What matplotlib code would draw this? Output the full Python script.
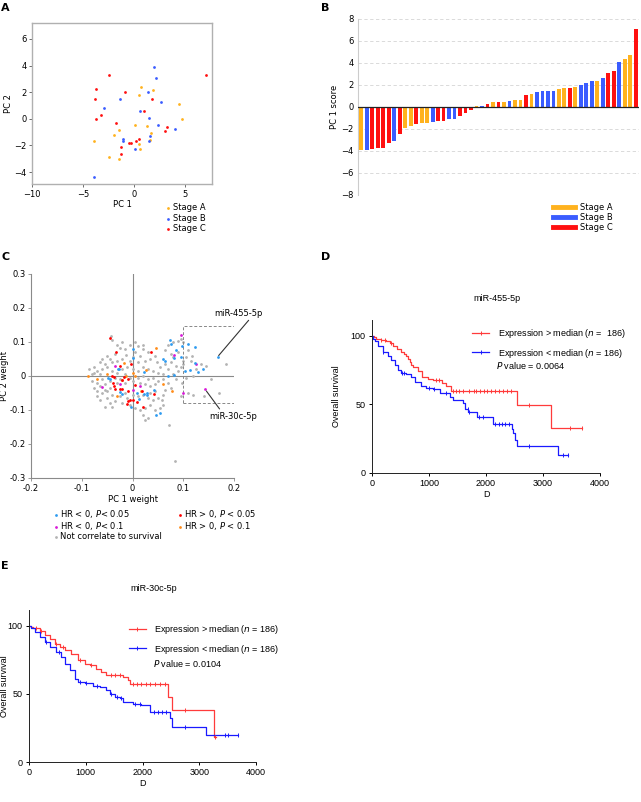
import matplotlib
matplotlib.use("Agg")
import matplotlib.pyplot as plt
from matplotlib.lines import Line2D
from matplotlib.patches import Rectangle

# ---------------------------------------------------------------- data ----
# panel A: PCA scores
a_stage_a_x = [0.65, 1.8, 0.5, 4.35, 4.7, 0.07, 1.2, -1.45, -1.95, 1.65, 1.5, 0.45, 0.6, -3.9, -2.45, -1.5]
a_stage_a_y = [2.4, 2.15, 1.8, 1.1, 0.0, -0.5, -0.55, -0.85, -1.2, -1.1, -1.6, -1.9, -2.3, -1.65, -2.9, -3.0]
a_stage_b_x = [1.9, 2.15, 1.3, -1.4, 2.6, -3.0, 0.55, 1.45, 2.3, 3.95, -1.1, -1.1, 1.5, 1.45, 0.1, -3.9]
a_stage_b_y = [3.9, 3.05, 2.0, 1.5, 1.25, 0.8, 0.6, 0.05, -0.5, -0.75, -1.5, -1.65, -1.3, -1.7, -2.25, -4.4]
a_stage_c_x = [-2.45, 7.0, -3.7, -0.9, -3.85, 1.7, -3.3, -3.7, 1.0, -1.75, 3.2, 3.0, 0.45, 0.2, -0.55, -0.35, -1.3, -1.25]
a_stage_c_y = [3.3, 3.3, 2.25, 2.05, 1.5, 1.5, 0.25, 0.0, 0.55, -0.35, -0.6, -0.9, -1.5, -1.7, -1.8, -1.8, -2.15, -2.65]

# panel B: sorted PC1 scores
b_scores = [-3.9, -3.95, -3.85, -3.75, -3.75, -3.3, -3.05, -2.45, -1.9, -1.75,
            -1.5, -1.45, -1.45, -1.4, -1.25, -1.25, -1.1, -1.1, -0.8, -0.5,
            -0.25, 0.1, 0.1, 0.25, 0.5, 0.5, 0.5, 0.55, 0.6, 0.65,
            1.05, 1.2, 1.35, 1.5, 1.5, 1.5, 1.6, 1.7, 1.75, 1.85,
            2.0, 2.2, 2.35, 2.4, 2.65, 3.05, 3.3, 4.05, 4.35, 4.75, 7.05]
b_stage = list("ABCCCCBCAACAABCCBBCCCABCACABAACABBBBAACABBBABCCBAAC")

# panel C: PC weights of miRNAs
c_blue = [(0.073, 0.105), (0.076, 0.094), (0.085, 0.076), (0.098, 0.088), (0.109, 0.094), (0.123, 0.084),
          (0.060, 0.050), (0.064, 0.044), (0.081, 0.054), (0.096, 0.057), (0.082, 0.002), (0.070, 0.0),
          (0.103, 0.015), (0.113, 0.017), (0.123, 0.038), (0.130, 0.011), (0.139, 0.020), (0.168, 0.057),
          (0.001, 0.079), (0.001, 0.053), (-0.029, 0.021), (-0.026, 0.021), (-0.049, -0.005), (-0.045, -0.008),
          (-0.024, -0.047), (-0.021, -0.052), (0.008, -0.05), (0.028, -0.05), (0.028, -0.057), (0.013, -0.068),
          (-0.003, -0.09), (0.047, -0.115), (0.055, -0.108), (0.022, 0.012), (0.042, -0.041), (0.022, -0.054)]
c_magenta = [(0.096, 0.121), (0.082, 0.061), (0.126, 0.035), (0.143, -0.039), (0.100, -0.050),
             (-0.035, 0.030), (-0.060, -0.031), (0.015, -0.028), (0.001, -0.041), (-0.025, -0.025)]
c_red = [(-0.045, 0.112), (-0.033, 0.072), (0.037, 0.071), (-0.003, 0.035), (-0.024, 0.029), (-0.041, 0.0),
         (-0.036, -0.003), (-0.017, -0.003), (-0.009, -0.009), (-0.039, -0.021), (-0.036, -0.030), (-0.034, -0.039),
         (-0.024, -0.039), (-0.020, -0.039), (-0.008, -0.044), (0.004, -0.027), (-0.005, -0.070), (0.001, -0.071),
         (-0.010, -0.083), (-0.008, -0.075), (0.008, -0.077), (0.021, -0.092), (0.018, -0.044), (0.042, -0.054),
         (-0.020, -0.011)]
c_orange = [(-0.087, 0.0), (-0.070, -0.008), (-0.051, 0.006), (-0.016, 0.039), (0.0, 0.008), (0.005, 0.0),
            (-0.013, 0.001), (-0.020, -0.013), (-0.030, -0.058), (0.016, -0.043), (0.026, 0.018), (0.047, 0.083),
            (0.060, -0.023), (0.077, -0.043)]
c_gray = [(-0.043, 0.118), (-0.040, 0.106), (-0.005, 0.09), (0.01, 0.088), (0.02, 0.08), (-0.015, 0.08),
          (-0.025, 0.082), (-0.012, 0.063), (0.005, 0.072), (-0.035, 0.065), (-0.05, 0.06), (-0.045, 0.05),
          (-0.03, 0.045), (-0.02, 0.05), (0.0, 0.055), (0.015, 0.06), (0.03, 0.07), (0.045, 0.06),
          (0.048, 0.04), (0.035, 0.05), (0.025, 0.045), (0.01, 0.04), (-0.005, 0.045), (-0.04, 0.04),
          (-0.055, 0.035), (-0.06, 0.02), (-0.07, 0.015), (-0.075, 0.01), (-0.08, 0.005), (-0.065, 0.005),
          (-0.05, 0.025), (-0.04, 0.015), (-0.03, 0.01), (-0.02, 0.02), (-0.01, 0.025), (0.0, 0.02),
          (0.01, 0.015), (0.02, 0.025), (0.03, 0.02), (0.04, 0.015), (0.05, 0.01), (0.055, 0.025),
          (-0.045, -0.015), (-0.035, -0.005), (-0.025, -0.01), (-0.015, 0.005), (-0.005, -0.005), (0.01, -0.005),
          (0.02, 0.0), (0.03, -0.01), (0.04, -0.005), (0.05, -0.015), (0.06, -0.01), (-0.06, -0.01),
          (-0.07, -0.02), (-0.075, -0.035), (-0.065, -0.03), (-0.055, -0.025), (-0.045, -0.035), (-0.03, -0.02),
          (-0.015, -0.02), (0.0, -0.015), (0.015, -0.02), (0.025, -0.025), (0.035, -0.03), (0.045, -0.025),
          (-0.07, -0.045), (-0.06, -0.05), (-0.05, -0.045), (-0.04, -0.055), (-0.025, -0.06), (-0.015, -0.05),
          (-0.01, -0.065), (0.0, -0.055), (0.01, -0.06), (0.02, -0.055), (0.03, -0.065), (0.04, -0.07),
          (0.05, -0.065), (0.06, -0.055), (-0.05, -0.065), (-0.045, -0.08), (-0.035, -0.075), (-0.02, -0.08),
          (-0.005, -0.085), (0.005, -0.095), (0.015, -0.1), (0.025, -0.095), (0.035, -0.085), (0.045, -0.1),
          (0.055, -0.095), (0.02, -0.115), (0.03, -0.125), (0.025, -0.13), (0.06, -0.085), (-0.055, -0.09),
          (-0.065, -0.07), (0.035, -0.05), (0.045, -0.045),
          (0.065, 0.075), (0.07, 0.09), (0.075, 0.065), (0.08, 0.1), (0.09, 0.102), (0.095, 0.108),
          (0.1, 0.1), (0.065, 0.035), (0.075, 0.04), (0.085, 0.03), (0.095, 0.025), (0.07, 0.02),
          (0.06, 0.005), (0.08, 0.005), (0.09, 0.015), (0.1, 0.035), (0.105, 0.055), (0.11, 0.075),
          (0.118, 0.06), (0.135, 0.035), (0.145, 0.028), (0.115, 0.045), (0.12, 0.0), (0.105, -0.005),
          (0.098, -0.02), (0.07, -0.02), (0.075, -0.035), (0.085, -0.01), (0.11, -0.05), (0.12, -0.055),
          (0.14, -0.06), (0.17, -0.05), (0.185, 0.036), (0.155, -0.01), (0.072, -0.145), (0.083, -0.25),
          (0.095, -0.06), (0.065, -0.04), (0.058, -0.07), (0.125, 0.02), (0.1, 0.045), (0.08, 0.055),
          (0.09, 0.07), (-0.085, 0.02), (-0.08, -0.015), (-0.075, 0.025), (-0.065, 0.04), (-0.055, -0.04),
          (-0.04, -0.09), (-0.07, -0.06), (-0.06, 0.05), (-0.03, 0.09), (-0.02, 0.1), (0.005, 0.1), (0.02, 0.09)]

# panel D: Kaplan-Meier, miR-455-5p
d_hi_t = [0, 40, 76, 150, 250, 310, 370, 440, 515, 560, 600, 630, 660, 690, 720, 810, 870, 985, 1070, 1220, 1290, 1380, 2537, 3134, 3690]
d_hi_s = [100, 99, 97.6, 97, 96.3, 94.5, 92.7, 90.5, 88.5, 87, 85, 83, 81, 79, 77, 74, 70, 68.5, 67.5, 65.4, 63.4, 59.8, 49.5, 32.9, 32.9]
d_lo_t = [0, 20, 47, 105, 193, 281, 340, 398, 457, 515, 600, 690, 750, 867, 955, 1072, 1190, 1365, 1424, 1600, 1630, 1690, 1835, 2127, 2450, 2480, 2510, 2537, 3270, 3445]
d_lo_s = [100, 98, 95.9, 92.7, 88.5, 85, 82.4, 78.8, 75, 72.7, 72, 70, 66.6, 63.4, 61.7, 61, 58, 55.6, 53, 50.7, 47, 44.6, 40.5, 36, 32.4, 28.8, 24, 19.8, 13, 13]
d_hi_cens = [150, 230, 330, 1120, 1170, 1420, 1480, 1530, 1600, 1700, 1790, 1830, 1900, 1960, 2020, 2080, 2150, 2220, 2290, 2360, 2430, 2750, 3480, 3680]
d_lo_cens = [200, 520, 560, 1000, 1080, 1300, 1680, 1700, 1880, 1950, 2150, 2220, 2280, 2340, 2410, 2750, 3350, 3440]

# panel E: Kaplan-Meier, miR-30c-5p
e_hi_t = [0, 30, 70, 188, 276, 364, 452, 540, 628, 746, 863, 981, 1069, 1186, 1275, 1363, 1656, 1745, 1774, 2449, 2526, 3254, 3300]
e_hi_s = [100, 99, 98, 96.4, 93.4, 90.3, 86.7, 84.2, 82.3, 79, 74.5, 72, 70.9, 68.4, 66, 63.6, 62.4, 60, 57.5, 47.8, 38, 18.7, 18.7]
e_lo_t = [0, 41, 100, 188, 276, 364, 482, 570, 628, 717, 805, 863, 981, 1128, 1245, 1363, 1421, 1510, 1598, 1656, 1833, 1980, 2126, 2479, 2526, 3125, 3683]
e_lo_s = [100, 98, 95, 91.5, 87.9, 84.2, 80.6, 77, 72, 67.3, 61.2, 58.7, 58.2, 55.8, 55, 52.7, 50.2, 47.8, 46.6, 44.2, 42.5, 41.7, 36.9, 32, 26, 20, 20]
e_hi_cens = [120, 220, 480, 600, 900, 1100, 1450, 1520, 1600, 1830, 1900, 1980, 2060, 2140, 2220, 2300, 2400, 2750, 3280]
e_lo_cens = [300, 520, 900, 1000, 1200, 1450, 1550, 1620, 1870, 1950, 2200, 2270, 2340, 2420, 2750, 3450, 3500, 3680]

# ---------------------------------------------------------------- style ---
plt.rcParams['font.family'] = ['DejaVu Sans']
plt.rcParams['font.size'] = 6
c_a, c_b, c_c = '#ffb21e', '#3a5cff', '#ff1010'
stage_colors = {'A': c_a, 'B': c_b, 'C': c_c}
km_font = ['Liberation Sans', 'DejaVu Sans']

fig = plt.figure(figsize=(6.41, 8.02), dpi=100)

def px_axes(left, top, right, bottom):
    W, H = 641, 802
    return fig.add_axes([left / W, 1 - bottom / H, (right - left) / W, (bottom - top) / H])

def panel_label(x, y, s):
    fig.text(x / 641, 1 - y / 802, s, fontsize=8, fontweight='bold', va='top', ha='left')


# -------------------------------------------------------------------------- #
#                                      A                                     #
# -------------------------------------------------------------------------- #
ax = px_axes(32, 23, 212, 184)
ax.scatter(a_stage_a_x, a_stage_a_y, s=4, color=c_a, label='Stage A', zorder=3, linewidths=0)
ax.scatter(a_stage_b_x, a_stage_b_y, s=4, color=c_b, label='Stage B', zorder=3, linewidths=0)
ax.scatter(a_stage_c_x, a_stage_c_y, s=4, color=c_c, label='Stage C', zorder=3, linewidths=0)
ax.set_xlim(-10, 7.6)
ax.set_ylim(-4.9, 7.2)
ax.set_xticks([-10, -5, 0, 5])
ax.set_yticks([-4, -2, 0, 2, 4, 6])
for sp in ax.spines.values():
    sp.set_color('#b0b0b0')
    sp.set_linewidth(1.0)
ax.tick_params(length=2, width=0.6, color='#555555', labelsize=6, pad=2)
ax.set_xlabel('PC 1', fontsize=6, labelpad=1)
ax.set_ylabel('PC 2', fontsize=6, labelpad=1)
ax.legend(loc='upper left', bbox_to_anchor=(0.71, -0.095), frameon=False, fontsize=6,
          handletextpad=0.1, handlelength=1, labelspacing=0.15, borderpad=0, markerscale=1)
panel_label(1, 3, 'A')


# -------------------------------------------------------------------------- #
#                                      B                                     #
# -------------------------------------------------------------------------- #
ax = px_axes(358, 19, 639, 195)
xs = list(range(len(b_scores)))
ax.bar(xs, b_scores, width=0.68, color=[stage_colors[s] for s in b_stage], zorder=3)
ax.set_xlim(-0.6, len(b_scores) - 0.4)
ax.set_ylim(-8, 8)
ax.set_yticks(range(-8, 9, 2))
ax.yaxis.grid(True, linestyle=(0, (4, 3)), color='#d5d5d5', linewidth=0.6)
ax.axhline(0, color='#222222', linewidth=0.9, zorder=4)
ax.set_xticks([])
for k in ['top', 'right', 'bottom']:
    ax.spines[k].set_visible(False)
ax.spines['left'].set_color('#cccccc')
ax.tick_params(axis='y', length=0, labelsize=6, pad=3)
ax.set_ylabel('PC 1 score', fontsize=6, labelpad=2)
handles = [Line2D([], [], color=stage_colors[s], lw=3.5) for s in 'ABC']
ax.legend(handles, ['Stage A', 'Stage B', 'Stage C'], loc='upper left', bbox_to_anchor=(0.68, -0.02),
          frameon=False, fontsize=6, handlelength=2.6, handletextpad=0.6, labelspacing=0.15, borderpad=0)
panel_label(321, 3, 'B')


# -------------------------------------------------------------------------- #
#                                      C                                     #
# -------------------------------------------------------------------------- #
ax = px_axes(31, 274, 234, 478)
groups = [
    (c_gray, '#b3b3b3', 'Not correlate to survival', 2),
    (c_orange, '#ff8c1a', 'HR > 0, $P$ < 0.1', 3),
    (c_red, '#ff0000', 'HR > 0, $P$ < 0.05', 3),
    (c_magenta, '#d81ad8', 'HR < 0, $P$< 0.1', 3),
    (c_blue, '#2e9bf0', 'HR < 0, $P$< 0.05', 3),
]
for pts, col, lab, z in groups:
    ax.scatter([p[0] for p in pts], [p[1] for p in pts], s=4, color=col, linewidths=0, zorder=z, label=lab)
ax.axhline(0, color='#8a8a8a', linewidth=0.8, zorder=1)
ax.axvline(0, color='#8a8a8a', linewidth=0.8, zorder=1)
ax.add_patch(Rectangle((0.099, -0.078), 0.101, 0.224, fill=False, linestyle=(0, (3, 2)),
                       edgecolor='#888888', linewidth=0.7, zorder=2))
ax.set_xlim(-0.2, 0.2)
ax.set_ylim(-0.3, 0.3)
ax.set_xticks([-0.2, -0.1, 0, 0.1, 0.2])
ax.set_xticklabels(['-0.2', '-0.1', '0', '0.1', '0.2'])
ax.set_yticks([-0.3, -0.2, -0.1, 0, 0.1, 0.2, 0.3])
ax.set_yticklabels(['-0.3', '-0.2', '-0.1', '0', '0.1', '0.2', '0.3'])
for k in ['top', 'right']:
    ax.spines[k].set_visible(False)
for k in ['left', 'bottom']:
    ax.spines[k].set_color('#8a8a8a')
    ax.spines[k].set_linewidth(0.8)
ax.tick_params(length=2, width=0.6, color='#8a8a8a', labelsize=6, pad=2)
ax.set_xlabel('PC 1 weight', fontsize=6, labelpad=2)
ax.set_ylabel('PC 2 weight', fontsize=6, labelpad=0)
ax.annotate('miR-455-5p', xy=(0.168, 0.057), xytext=(0.162, 0.172), fontsize=6, ha='left', va='bottom',
            arrowprops=dict(arrowstyle='-', color='#333333', lw=0.8, shrinkA=0, shrinkB=1,
                            relpos=(0.75, 0)))
ax.annotate('miR-30c-5p', xy=(0.144, -0.041), xytext=(0.152, -0.105), fontsize=6, ha='left', va='top',
            arrowprops=dict(arrowstyle='-', color='#333333', lw=0.8, shrinkA=0, shrinkB=1,
                            relpos=(0.25, 1)))
h, l = ax.get_legend_handles_labels()
# column-major fill: blue, magenta, gray | red, orange
order = [4, 3, 0, 2, 1]
fig.legend([h[i] for i in order], [l[i] for i in order], loc='upper left',
           bbox_to_anchor=(48 / 641, 1 - 504 / 802), ncol=2, frameon=False, fontsize=6,
           handletextpad=0, handlelength=1, labelspacing=0.0, columnspacing=1.6, borderpad=0,
           markerscale=1)
panel_label(1, 252, 'C')


# -------------------------------------------------------------------------- #
#                                    D / E                                   #
# -------------------------------------------------------------------------- #
def km_panel(ax, hi_t, hi_s, lo_t, lo_s, hi_c, lo_c, title, pval, n_hi_txt, leg_y, p_y, ylab_x):
    red, blue = '#ff3b3b', '#1a1aff'
    ax.step(hi_t, hi_s, where='post', color=red, lw=0.9)
    ax.step(lo_t, lo_s, where='post', color=blue, lw=0.9)

    def level(ts, ss, t):
        v = ss[0]
        for ti, si in zip(ts, ss):
            if ti <= t:
                v = si
        return v
    ax.plot(hi_c, [level(hi_t, hi_s, t) for t in hi_c], linestyle='none', marker='|', ms=3,
            mew=0.7, color=red)
    ax.plot(lo_c, [level(lo_t, lo_s, t) for t in lo_c], linestyle='none', marker='|', ms=3,
            mew=0.7, color=blue)
    ax.set_xlim(0, 4000)
    ax.set_ylim(0, 111.5)
    ax.set_xticks([0, 1000, 2000, 3000, 4000])
    ax.set_yticks([0, 50, 100])
    for k in ['top', 'right']:
        ax.spines[k].set_visible(False)
    for k in ['left', 'bottom']:
        ax.spines[k].set_linewidth(0.7)
        ax.spines[k].set_color('#222222')
    ax.tick_params(length=2.5, width=0.7, labelsize=6.5, pad=2)
    for t in ax.get_xticklabels() + ax.get_yticklabels():
        t.set_fontfamily(km_font)
    ax.set_xlabel('D', fontsize=6.5, family=km_font, labelpad=1)
    ax.set_ylabel('Overall survival', fontsize=6.5, family=km_font)
    ax.yaxis.set_label_coords(ylab_x, 0.5)
    ax.set_title(title, fontsize=6.5, family=km_font, pad=14, x=0.55)
    handles = [Line2D([], [], color=red, lw=0.9, marker='|', ms=3, mew=0.7),
               Line2D([], [], color=blue, lw=0.9, marker='|', ms=3, mew=0.7)]
    labels = [n_hi_txt, 'Expression < median ($n$ = 186)']
    ax.legend(handles, labels, loc='upper left', bbox_to_anchor=(0.42, leg_y), frameon=False,
              prop={'family': km_font, 'size': 6.5}, handlelength=1.9, handletextpad=0.9,
              labelspacing=0.75, borderpad=0)
    ax.text(0.546, p_y, '$P$ value = ' + pval, transform=ax.transAxes, fontsize=6.5,
            family=km_font, va='center')


ax = px_axes(372, 320, 600, 473)
km_panel(ax, d_hi_t, d_hi_s, d_lo_t, d_lo_s, d_hi_cens, d_lo_cens, 'miR-455-5p', '0.0064',
         'Expression > median ($n$ =  186)', 0.985, 0.70, -0.135)
panel_label(321, 252, 'D')

ax = px_axes(29, 610, 256, 762)
km_panel(ax, e_hi_t, e_hi_s, e_lo_t, e_lo_s, e_hi_cens, e_lo_cens, 'miR-30c-5p', '0.0104',
         'Expression > median ($n$ = 186)', 0.945, 0.645, -0.088)
panel_label(1, 561, 'E')

fig.savefig('out.png', dpi=100)
